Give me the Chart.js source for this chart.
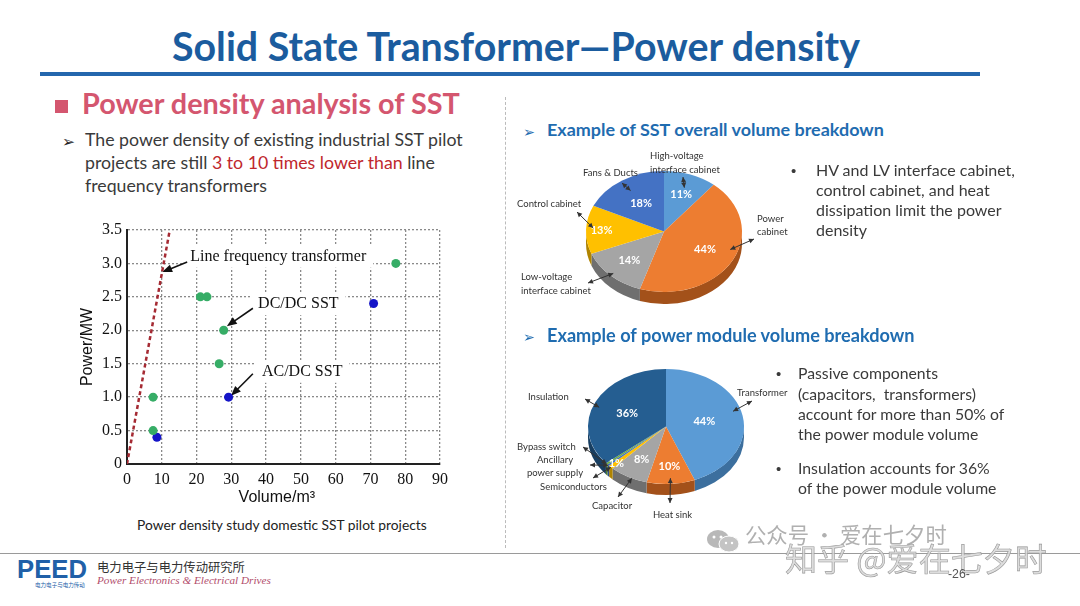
<!DOCTYPE html>
<html>
<head>
<meta charset="utf-8">
<title>Solid State Transformer - Power density</title>
<script src="https://cdn.jsdelivr.net/npm/chart.js@4.4.1/dist/chart.umd.min.js"></script>
<style>
  body { margin: 0; background: #fff; }
  #slide { position: relative; width: 1080px; height: 606px; overflow: hidden; background: #fff; color: #3a3a3a; }
  .t { position: absolute; white-space: nowrap; line-height: 1; }
  .red { color: #c0272d; }
  canvas { position: absolute; }
</style>
</head>
<body>
<div id="slide">
  <div style="position:absolute;left:40px;top:72px;width:940px;height:4px;background:#2467ad"></div>
  <div style="position:absolute;left:55px;top:100px;width:13px;height:13px;background:#d4566f"></div>
  <div style="position:absolute;left:505px;top:97px;height:451px;border-left:1px dashed #bbb"></div>
  <div style="position:absolute;left:0;top:553px;width:1080px;height:1px;background:#9a9a9a"></div>
  <svg style="position:absolute;left:706px;top:529px" width="36" height="24">
    <ellipse cx="12" cy="10" rx="11" ry="9" fill="#b8b8b8"/>
    <ellipse cx="23" cy="15" rx="10" ry="8" fill="#c4c4c4" stroke="#fff" stroke-width="1"/>
    <circle cx="8" cy="8" r="1.5" fill="#fff"/><circle cx="15" cy="8" r="1.5" fill="#fff"/>
    <circle cx="20" cy="14" r="1.2" fill="#fff"/><circle cx="26" cy="14" r="1.2" fill="#fff"/>
  </svg>
  <canvas id="scatter" width="400" height="300" style="left:60px;top:215px"></canvas>
  <canvas id="pieSST" width="290" height="175" style="left:510px;top:140px"></canvas>
  <canvas id="pieMod" width="290" height="190" style="left:510px;top:340px"></canvas>
</div>
<script>
// ---- data ----
// scatter: volume (m3) vs power (MW)
const dcVolume = [7.5, 7.5, 21.1, 23.0, 27.8, 26.5, 77.3];
const dcPower  = [1.0, 0.5, 2.5, 2.5, 2.0, 1.5, 3.0];
const acVolume = [8.6, 29.2, 70.9];
const acPower  = [0.4, 1.0, 2.4];
const lftVolume = [0, 12.3];
const lftPower  = [0, 3.5];
const xTicks = [0, 10, 20, 30, 40, 50, 60, 70, 80, 90];
const yTicks = [0, 0.5, 1.0, 1.5, 2.0, 2.5, 3.0, 3.5];

// notes on the scatter (data units)
const noteText = ['Line frequency transformer', 'DC/DC SST', 'AC/DC SST'];
const noteX = [18.2, 37.7, 38.8];
const noteY = [3.10, 2.39, 1.38];
const arrowFrom = [[17.3, 3.02], [36.2, 2.33], [36.2, 1.35]];
const arrowTo   = [[10.1, 2.87], [28.7, 2.06], [29.9, 1.02]];

// pie 1: SST overall volume
const sstParts = ['High-voltage interface cabinet', 'Power cabinet', 'Low-voltage interface cabinet', 'Control cabinet', 'Fans & Ducts'];
const sstShare = [11, 44, 14, 13, 18];
const sstLabels = ['11%', '44%', '14%', '13%', '18%'];

// pie 2: power module volume
const modParts = ['Transformer', 'Heat sink', 'Capacitor', 'Semiconductors', 'Ancillary power supply', 'Bypass switch', 'Insulation'];
const modShare = [44, 10, 8, 1, 0.5, 0.5, 36];
const modLabels = ['44%', '10%', '8%', '1%', '', '', '36%'];

// ---- text on the slide ----
const slide = document.getElementById('slide');
const fam = { lato: 'Lato, sans-serif', serif: '"Liberation Serif", serif', sans: '"Liberation Sans", sans-serif',
              dejavu: '"DejaVu Sans", sans-serif', cjk: '"Noto Sans CJK SC", sans-serif' };
const baseK = { lato: 0.887, serif: 0.8375, sans: 0.8465, dejavu: 0.846, cjk: 0.936 };

function putLines(lines, x, bases, o) {
  const f = o.f || 'lato';
  const els = lines.map(h => {
    const d = document.createElement('div');
    d.className = 't';
    d.innerHTML = h;
    d.style.left = x + 'px';
    d.style.fontFamily = fam[f];
    d.style.fontSize = o.fs + 'px';
    d.style.fontWeight = o.bold ? '700' : '400';
    if (o.italic) d.style.fontStyle = 'italic';
    d.style.color = o.color || '#3a3a3a';
    if (o.stroke) d.style.webkitTextStroke = o.stroke;
    slide.appendChild(d);
    return d;
  });
  let fs = o.fs;
  if (o.w) fs = o.fs * o.w / els[0].getBoundingClientRect().width;
  els.forEach((d, i) => {
    d.style.fontSize = fs + 'px';
    d.style.top = (bases[i] - baseK[f] * fs) + 'px';
  });
}

putLines(['Solid State Transformer—Power density'], 172, [61], { fs: 35, w: 688, bold: true, color: '#1b5c9e' });
putLines(['Power density analysis of SST'], 82, [115], { fs: 27, w: 378, bold: true, color: '#d4566f' });
putLines(['➢'], 62, [148], { fs: 15, w: 13, f: 'dejavu', color: '#222' });
putLines(['The power density of existing industrial SST pilot',
          'projects are still <span class="red">3 to 10 times lower than</span> line',
          'frequency transformers'], 85, [147, 170, 193], { fs: 17, w: 378 });
putLines(['Power density study domestic SST pilot projects'], 137, [530], { fs: 13, w: 290, color: '#222' });

putLines(['➢'], 523, [137], { fs: 14, w: 12, f: 'dejavu', color: '#1f6cb0' });
putLines(['Example of SST overall volume breakdown'], 547, [137], { fs: 17, w: 337, bold: true, color: '#1f6cb0' });
putLines(['➢'], 523, [342], { fs: 14, w: 12, f: 'dejavu', color: '#1f6cb0' });
putLines(['Example of power module volume breakdown'], 547, [342], { fs: 17, w: 368, bold: true, color: '#1f6cb0' });

putLines(['•'], 791, [176], { fs: 15, f: 'sans' });
putLines(['HV and LV interface cabinet,', 'control cabinet, and heat', 'dissipation limit the power', 'density'],
         816, [176, 196, 216, 236], { fs: 16, w: 199 });
putLines(['•', '•'], 776, [379, 474], { fs: 15, f: 'sans' });
putLines(['Passive components', '(capacitors,&nbsp; transformers)', 'account for more than 50% of', 'the power module volume'],
         798, [379, 400, 420, 440], { fs: 16, w: 140 });
putLines(['Insulation accounts for 36%', 'of the power module volume'], 798, [474, 494], { fs: 16, w: 192 });

putLines(['PEED'], 17, [579], { fs: 22, w: 70, bold: true, f: 'sans', color: '#2060a8' });
putLines(['电力电子与电力传动'], 35, [588], { fs: 6, w: 50, f: 'cjk', color: '#2060a8' });
putLines(['电力电子与电力传动研究所'], 97, [573], { fs: 13, w: 148, f: 'cjk', color: '#333' });
putLines(['Power Electronics &amp; Electrical Drives'], 97, [584], { fs: 12, w: 174, f: 'serif', italic: true, color: '#b24d6c' });

putLines(['公众号 · 爱在七夕时'], 745, [543], { fs: 19, w: 202, f: 'cjk', color: '#b0b0b0' });
putLines(['知乎 @爱在七夕时'], 785, [571], { fs: 30, w: 262, f: 'cjk', color: 'rgba(215,215,215,0.85)', stroke: '0.6px #999' });
putLines(['-26-'], 948, [578], { fs: 11, w: 22, f: 'sans', color: '#555' });

// ---- scatter chart ----
const notesPlugin = {
  id: 'notes',
  beforeDatasetsDraw(chart) {
    const { ctx, scales: { x, y } } = chart;
    ctx.save();
    ctx.font = '16px "Liberation Serif"';
    ctx.textBaseline = 'middle';
    noteText.forEach((t, i) => {
      const px = x.getPixelForValue(noteX[i]);
      const py = y.getPixelForValue(noteY[i]);
      const w = ctx.measureText(t).width;
      ctx.fillStyle = '#fff';
      ctx.fillRect(px - 7, py - 11, w + 14, 22);
      ctx.fillStyle = '#111';
      ctx.fillText(t, px, py);
    });
    ctx.strokeStyle = '#111';
    ctx.fillStyle = '#111';
    ctx.lineWidth = 1.6;
    arrowFrom.forEach((p, i) => {
      const x1 = x.getPixelForValue(p[0]), y1 = y.getPixelForValue(p[1]);
      const x2 = x.getPixelForValue(arrowTo[i][0]), y2 = y.getPixelForValue(arrowTo[i][1]);
      const a = Math.atan2(y2 - y1, x2 - x1);
      ctx.beginPath();
      ctx.moveTo(x1, y1);
      ctx.lineTo(x2 - Math.cos(a) * 6, y2 - Math.sin(a) * 6);
      ctx.stroke();
      ctx.beginPath();
      ctx.moveTo(x2, y2);
      ctx.lineTo(x2 - Math.cos(a) * 10 + Math.sin(a) * 4, y2 - Math.sin(a) * 10 - Math.cos(a) * 4);
      ctx.lineTo(x2 - Math.cos(a) * 10 - Math.sin(a) * 4, y2 - Math.sin(a) * 10 + Math.cos(a) * 4);
      ctx.closePath();
      ctx.fill();
    });
    ctx.restore();
  }
};

const tickFont = { family: '"Liberation Serif"', size: 16 };
const titleFont = { family: '"Liberation Sans"', size: 16 };

new Chart(document.getElementById('scatter'), {
  type: 'scatter',
  data: {
    datasets: [
      { label: 'DC/DC SST', data: dcVolume.map((v, i) => ({ x: v, y: dcPower[i] })),
        backgroundColor: '#36ad66', borderWidth: 0, pointRadius: 4.5 },
      { label: 'AC/DC SST', data: acVolume.map((v, i) => ({ x: v, y: acPower[i] })),
        backgroundColor: '#1515c8', borderWidth: 0, pointRadius: 4.5 },
      { label: 'Line frequency transformer', type: 'line', data: lftVolume.map((v, i) => ({ x: v, y: lftPower[i] })),
        borderColor: '#a52a33', borderDash: [4, 3], borderWidth: 2.5, pointRadius: 0, fill: false }
    ]
  },
  options: {
    responsive: false,
    animation: false,
    events: [],
    layout: { padding: { top: 15, right: 20, left: 0, bottom: 0 } },
    plugins: { legend: { display: false }, tooltip: { enabled: false } },
    scales: {
      x: {
        type: 'linear', min: 0, max: 90,
        afterFit(s) { s.height = 51; },
        afterBuildTicks(s) { s.ticks = xTicks.map(v => ({ value: v })); },
        ticks: { color: '#111', font: tickFont, padding: 6, maxRotation: 0 },
        grid: { color: '#8a8a8a', lineWidth: 1.3, drawTicks: false },
        border: { display: true, color: '#222', width: 2, dash: [2, 2] },
        title: { display: true, text: 'Volume/m³   ', color: '#111', font: titleFont, padding: { top: 0, bottom: 8 } }
      },
      y: {
        type: 'linear', min: 0, max: 3.5,
        afterFit(s) { s.width = 67; },
        afterBuildTicks(s) { s.ticks = yTicks.map(v => ({ value: v })); },
        ticks: { color: '#111', font: tickFont, padding: 5, callback: v => v === 0 ? '0' : v.toFixed(1) },
        grid: { color: '#8a8a8a', lineWidth: 1.3, drawTicks: false },
        border: { display: true, color: '#222', width: 2, dash: [2, 2] },
        title: { display: true, text: 'Power/MW', color: '#111', font: titleFont, padding: { top: 18, bottom: 0 } }
      }
    }
  },
  plugins: [notesPlugin]
});

// ---- tilted pies ----
function makePie3d(cfg) {
  return {
    id: 'pie3d',
    beforeDatasetsDraw(chart) {
      const ctx = chart.ctx;
      const arcs = chart.getDatasetMeta(0).data;
      const cx = arcs[0].x, cy = arcs[0].y, r = arcs[0].outerRadius;
      ctx.save();
      ctx.translate(cx, cy);
      ctx.scale(1, cfg.tilt);
      ctx.translate(-cx, -cy);
      const d = cfg.depth / cfg.tilt;
      arcs.forEach((a, i) => {
        const s = Math.max(a.startAngle, 0), e = Math.min(a.endAngle, Math.PI);
        if (e <= s) return;
        ctx.beginPath();
        ctx.arc(cx, cy, r, s, e);
        ctx.arc(cx, cy + d, r, e, s, true);
        ctx.closePath();
        ctx.fillStyle = cfg.side[i];
        ctx.fill();
      });
    },
    afterDatasetsDraw(chart) {
      const ctx = chart.ctx;
      const arcs = chart.getDatasetMeta(0).data;
      ctx.fillStyle = '#fff';
      ctx.font = 'bold 11px Lato';
      ctx.textAlign = 'center';
      ctx.textBaseline = 'middle';
      arcs.forEach((a, i) => {
        if (!cfg.labels[i]) return;
        const m = (a.startAngle + a.endAngle) / 2;
        const rr = a.outerRadius * cfg.labelF[i];
        ctx.save();
        ctx.translate(a.x + Math.cos(m) * rr, a.y + Math.sin(m) * rr);
        ctx.scale(1, 1 / cfg.tilt);
        ctx.fillText(cfg.labels[i], 0, 0);
        ctx.restore();
      });
      ctx.restore();
    },
    afterDraw(chart) {
      const ctx = chart.ctx;
      const arcs = chart.getDatasetMeta(0).data;
      ctx.save();
      ctx.font = '9.5px Lato';
      ctx.fillStyle = '#333';
      ctx.strokeStyle = '#333';
      ctx.lineWidth = 1;
      ctx.textBaseline = 'middle';
      const head = (x, y, a) => {
        ctx.beginPath();
        ctx.moveTo(x, y);
        ctx.lineTo(x - Math.cos(a) * 5 + Math.sin(a) * 2.5, y - Math.sin(a) * 5 - Math.cos(a) * 2.5);
        ctx.lineTo(x - Math.cos(a) * 5 - Math.sin(a) * 2.5, y - Math.sin(a) * 5 + Math.cos(a) * 2.5);
        ctx.closePath();
        ctx.fill();
      };
      cfg.callouts.forEach(c => {
        const a = arcs[c.i];
        const t = a.startAngle + (a.endAngle - a.startAngle) * c.frac;
        const sx = a.x + Math.cos(t) * a.outerRadius * c.rf;
        const sy = a.y + Math.sin(t) * a.outerRadius * c.rf * cfg.tilt;
        const hx = c.hx - cfg.left, hy = c.hy - cfg.top;
        const ang = Math.atan2(hy - sy, hx - sx);
        ctx.beginPath();
        ctx.moveTo(sx, sy);
        ctx.lineTo(hx, hy);
        ctx.stroke();
        head(hx, hy, ang);
        head(sx, sy, ang + Math.PI);
        ctx.textAlign = c.align || 'left';
        c.lines.forEach((l, k) => ctx.fillText(l, c.lx - cfg.left, c.ly[k] - cfg.top));
      });
      ctx.restore();
    }
  };
}

function pieChart(id, values, colors, names, pad, plugin) {
  return new Chart(document.getElementById(id), {
    type: 'pie',
    data: {
      labels: names,
      datasets: [{ data: values, backgroundColor: colors, borderWidth: 0, hoverBorderWidth: 0, hoverOffset: 0, clip: false }]
    },
    options: {
      responsive: false,
      animation: false,
      events: [],
      radius: 78,
      layout: { padding: pad },
      plugins: { legend: { display: false }, tooltip: { enabled: false } }
    },
    plugins: [plugin]
  });
}

pieChart('pieSST', sstShare,
  ['#5b9bd5', '#ed7d31', '#a5a5a5', '#ffc000', '#4472c4'], sstParts,
  { left: 76, right: 58, top: 13.5, bottom: 5.5 },
  makePie3d({
    tilt: 0.776, depth: 12, left: 510, top: 140,
    side: ['#3c6f9e', '#a3511a', '#6f6f6f', '#b08400', '#2d5090'],
    labels: sstLabels, labelF: [0.65, 0.6, 0.65, 0.8, 0.55],
    callouts: [
      { i: 0, frac: 0.5, rf: 0.77, lines: ['High-voltage', 'interface cabinet'], lx: 650, ly: [156, 170], hx: 683, hy: 177 },
      { i: 1, frac: 0.44, rf: 0.9, lines: ['Power', 'cabinet'], lx: 757, ly: [219, 232], hx: 754, hy: 239 },
      { i: 2, frac: 0.5, rf: 0.95, lines: ['Low-voltage', 'interface cabinet'], lx: 521, ly: [277, 291], hx: 588, hy: 283 },
      { i: 3, frac: 0.54, rf: 0.91, lines: ['Control cabinet'], lx: 517, ly: [204], hx: 577, hy: 212 },
      { i: 4, frac: 0.5, rf: 0.8, lines: ['Fans & Ducts'], lx: 583, ly: [173], hx: 622, hy: 183 }
    ]
  }));

pieChart('pieMod', modShare,
  ['#5b9bd5', '#ed7d31', '#a5a5a5', '#ffc000', '#4472c4', '#70ad47', '#255e91'], modParts,
  { left: 78, right: 56, top: 8.5, bottom: 25.5 },
  makePie3d({
    tilt: 0.737, depth: 11, left: 510, top: 340,
    side: ['#3c6f9e', '#a3511a', '#6f6f6f', '#b08400', '#2d5090', '#4e7a31', '#173e61'],
    labels: modLabels, labelF: [0.5, 0.7, 0.65, 0.9, 0, 0, 0.55],
    callouts: [
      { i: 0, frac: 0.46, rf: 0.9, lines: ['Transformer'], lx: 737, ly: [393], hx: 752, hy: 401 },
      { i: 1, frac: 0.5, rf: 0.9, lines: ['Heat sink'], lx: 653, ly: [515], hx: 670, hy: 503 },
      { i: 2, frac: 0.4, rf: 1.0, lines: ['Capacitor'], lx: 592, ly: [506], hx: 618, hy: 497 },
      { i: 3, frac: 0.5, rf: 1.0, lines: ['Semiconductors'], lx: 540, ly: [487], hx: 593, hy: 478 },
      { i: 4, frac: 0.5, rf: 1.0, lines: ['Ancillary', 'power supply'], lx: 555, ly: [460, 473], align: 'center', hx: 590, hy: 465 },
      { i: 5, frac: 0.5, rf: 1.0, lines: ['Bypass switch'], lx: 517, ly: [447], hx: 583, hy: 447 },
      { i: 6, frac: 0.47, rf: 0.92, lines: ['Insulation'], lx: 528, ly: [397], hx: 585, hy: 399 }
    ]
  }));
</script>
</body>
</html>
